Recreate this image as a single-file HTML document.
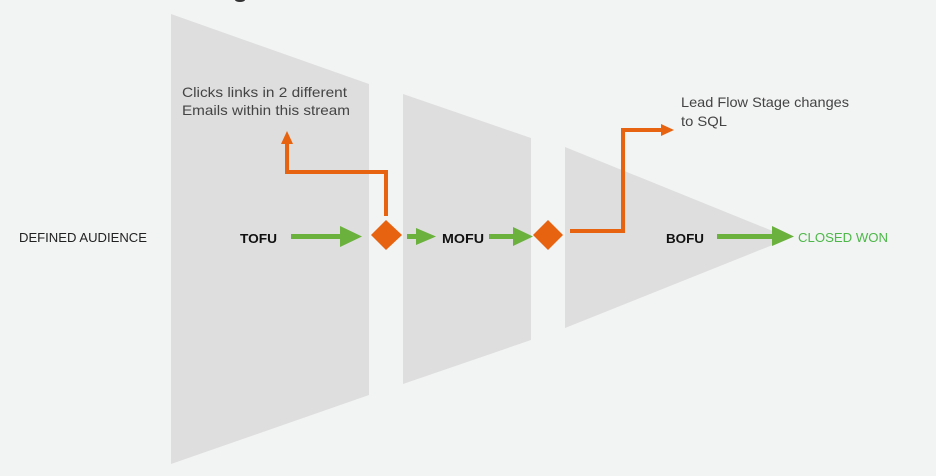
<!DOCTYPE html>
<html><head><meta charset="utf-8"><style>
html,body{margin:0;padding:0;background:#f2f3f3;}
svg{display:block}
text{font-family:"Liberation Sans",sans-serif;}
</style></head><body>
<svg width="936" height="476" viewBox="0 0 936 476" xmlns="http://www.w3.org/2000/svg">
<rect width="936" height="476" fill="#f2f3f3"/>
<ellipse cx="240" cy="0" rx="5" ry="2" fill="#333"/>
<polygon points="171,14 369,84 369,395 171,464" fill="#dedede"/>
<polygon points="403,94 531,138 531,340 403,384" fill="#dedede"/>
<polygon points="565,147 790,238 565,328" fill="#dedede"/>
<text x="19" y="242" font-size="12.5" fill="#222" textLength="128" lengthAdjust="spacingAndGlyphs">DEFINED AUDIENCE</text>
<text x="240" y="243" font-size="13" font-weight="bold" fill="#111" textLength="37" lengthAdjust="spacingAndGlyphs">TOFU</text>
<text x="442" y="243" font-size="13" font-weight="bold" fill="#111" textLength="42" lengthAdjust="spacingAndGlyphs">MOFU</text>
<text x="666" y="243" font-size="13" font-weight="bold" fill="#111" textLength="38" lengthAdjust="spacingAndGlyphs">BOFU</text>
<text x="798" y="242" font-size="13" fill="#4db848" textLength="90" lengthAdjust="spacingAndGlyphs">CLOSED WON</text>
<text x="182" y="97" font-size="14" fill="#444" textLength="165" lengthAdjust="spacingAndGlyphs">Clicks links in 2 different</text>
<text x="182" y="115" font-size="14" fill="#444" textLength="168" lengthAdjust="spacingAndGlyphs">Emails within this stream</text>
<text x="681" y="107" font-size="14" fill="#444" textLength="168" lengthAdjust="spacingAndGlyphs">Lead Flow Stage changes</text>
<text x="681" y="126" font-size="14" fill="#444" textLength="46" lengthAdjust="spacingAndGlyphs">to SQL</text>
<g fill="#6ab23d" stroke="none">
<rect x="291" y="234" width="50" height="5"/><polygon points="340,226 362,236.5 340,247"/>
<rect x="407" y="234" width="10" height="5"/><polygon points="416,228 436,236.5 416,245"/>
<rect x="489" y="234" width="25" height="5"/><polygon points="513,227 533,236.5 513,246"/>
<rect x="717" y="234" width="56" height="5"/><polygon points="772,226 794,236.5 772,246"/>
</g>
<g fill="none" stroke="#e8630f" stroke-width="4">
<polyline points="386,216 386,172 287,172 287,143"/>
<polyline points="570,231 623,231 623,130 662,130"/>
</g>
<g fill="#e8630f">
<polygon points="281,144 287,131 293,144"/>
<polygon points="661,124 674,130 661,136"/>
<polygon points="386,220 402,235 386,250 371,235"/>
<polygon points="548,220 563,235 548,250 533,235"/>
</g>
</svg>
</body></html>
